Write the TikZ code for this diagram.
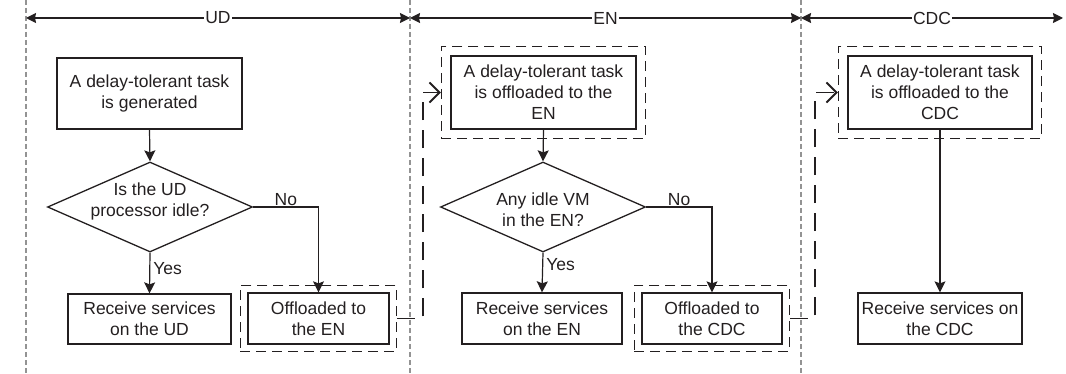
\documentclass[tikz,border=0pt]{standalone}
\usepackage{fontspec}
\setmainfont{Liberation Sans}
\usetikzlibrary{arrows.meta,shapes.geometric,fit,calc}
\definecolor{ink}{RGB}{35,31,32}
\begin{document}
\begin{tikzpicture}[x=1pt,y=-1pt,
  font=\fontsize{17.5}{21}\selectfont,
  box/.style={draw=ink, line width=1.3pt, rectangle, align=center, inner sep=0pt, text=ink},
  dbox/.style={draw=ink, line width=1.2pt, dash pattern=on 10pt off 6pt, rectangle},
  dec/.style={draw=ink, line width=1.3pt, diamond, minimum width=205pt, minimum height=90pt, inner sep=0pt},
  qtext/.style={align=center, text=ink, inner sep=0pt},
  flow/.style={draw=ink, line width=1.2pt, -{Stealth[length=11pt,width=11pt,inset=2pt]}},
  offl/.style={draw=ink, line width=1.6pt, dash pattern=on 18pt off 10pt, -{Straight Barb[length=10pt,width=20pt,line width=1.8pt]}},
  divider/.style={draw=gray!85, line width=1.3pt, dash pattern=on 5pt off 3pt},
  span/.style={draw=ink, line width=1.5pt, {Stealth[length=10pt,width=10pt,inset=1pt]}-{Stealth[length=10pt,width=10pt,inset=1pt]}},
  spanlab/.style={fill=white, text=ink, inner sep=1pt},
  lab/.style={text=ink, inner sep=1pt}
]
\useasboundingbox (0,0) rectangle (1066,374);

% dividers
\coordinate (v0) at (26,0);   \coordinate (w0) at (26,374);
\coordinate (v1) at (410,0);  \coordinate (w1) at (410,374);
\coordinate (v2) at (801,0);  \coordinate (w2) at (801,374);
\draw[divider] (v0) -- (w0);
\draw[divider] (v1) -- (w1);
\draw[divider] (v2) -- (w2);

% header spans
\coordinate (h0) at (26,18);
\coordinate (h1) at (410,18);
\coordinate (h2) at (801,18);
\coordinate (h3) at (1063,18);
\draw[span] (h0) -- node[spanlab]{UD} (h1);
\draw[span] (h1) -- node[spanlab]{EN} (h2);
\draw[span] (h2) -- node[spanlab]{CDC} (h3);

% UD column
\node[box, minimum width=185pt, minimum height=71pt] (b1) at (149.5,93.5) {A delay-tolerant task\\is generated};
\node[dec] (d1) at (150,207) {};
\node[qtext] (d1t) at (150,201) {Is the UD\\processor idle?};
\node[box, minimum width=163pt, minimum height=50pt] (r1) at (149.5,319) {Receive services\\on the UD};
\node[box, minimum width=141pt, minimum height=51pt] (o1) at (318.5,318.5) {Offloaded to\\the EN};
\node[dbox, fit=(o1), inner sep=7pt] (o1out) {};

% EN column
\node[box, minimum width=185pt, minimum height=73pt] (e1) at (543.5,92.5) {A delay-tolerant task\\is offloaded to the\\EN};
\node[dbox, fit=(e1), inner sep=9pt] (e1out) {};
\node[dec] (d2) at (543,207) {};
\node[qtext] (d2t) at (543,210) {Any idle VM\\in the EN?};
\node[box, minimum width=160pt, minimum height=51pt] (r2) at (542,318.5) {Receive services\\on the EN};
\node[box, minimum width=140pt, minimum height=51pt] (o2) at (712,318.5) {Offloaded to\\the CDC};
\node[dbox, fit=(o2), inner sep=7pt] (o2out) {};

% CDC column
\node[box, minimum width=184pt, minimum height=73pt] (c1) at (940,92.5) {A delay-tolerant task\\is offloaded to the\\CDC};
\node[dbox, fit=(c1), inner sep=9pt] (c1out) {};
\node[box, minimum width=164pt, minimum height=51pt] (r3) at (940,318.5) {Receive services on\\the CDC};

% flow connectors
\draw[flow] (b1.south) -- (d1.north);
\draw[flow] (d1.south) -- node[lab, pos=0.4, right, xshift=2pt]{Yes} (r1.north);
\draw[flow] (d1.east) -| node[lab, pos=0.25, above]{No} (o1.north);

\draw[flow] (e1.south) -- (d2.north);
\draw[flow] (d2.south) -- node[lab, pos=0.3, right, xshift=2pt]{Yes} (r2.north);
\draw[flow] (d2.east) -| node[lab, pos=0.25, above]{No} (o2.north);

\draw[flow] (c1.south) -- (r3.north);

% offload connectors
\coordinate (k1) at (423,0);
\coordinate (k2) at (815,0);
\draw[offl] (o1out.east) -- (o1out.east -| k1) |- (e1out.west);
\draw[offl] (o2out.east) -- (o2out.east -| k2) |- (c1out.west);
\end{tikzpicture}
\end{document}
